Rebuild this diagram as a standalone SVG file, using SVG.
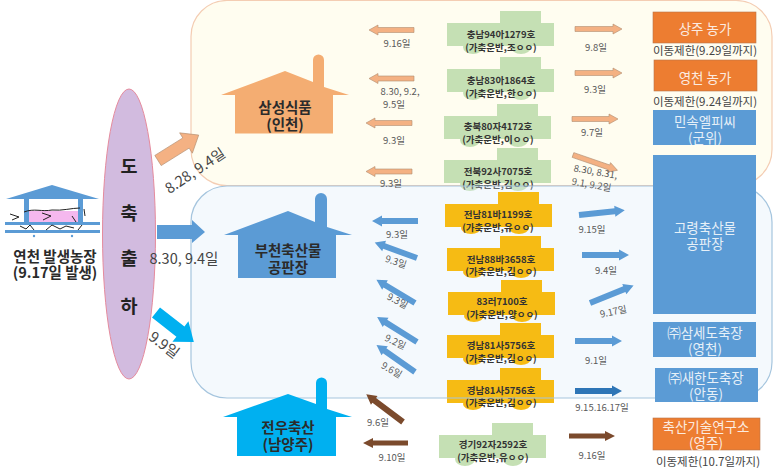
<svg xmlns="http://www.w3.org/2000/svg" width="773" height="470" viewBox="0 0 773 470">
<style>
text{font-family:"Noto Sans CJK KR","Noto Sans",sans-serif;text-anchor:middle}
.d{font-size:9.5px;fill:#595959}
.t{font-size:9.5px;font-weight:700;fill:#333}
.w{font-size:13.5px;fill:#fff;opacity:.85}
.h{font-size:14.5px;font-weight:700;fill:#2b2b2b}
.l{font-size:11.5px;fill:#444}
.b{font-size:14.5px;fill:#444}
.v{font-size:18.5px;font-weight:700;fill:#222}
.pe{fill:#f4b183;stroke:#b08d70;stroke-width:.6}
.bl{fill:#5b9bd5}
.br{fill:#7b4a2c}
.g{fill:#c5e0b4}
.y{fill:#f6bb14}
</style>
<defs>
<g id="tg"><path class="g" d="M0 12H53V0H94V12H107V35H0Z"/><ellipse class="g" cx="26" cy="36" rx="10" ry="7"/><ellipse class="g" cx="74" cy="36" rx="10" ry="7"/></g>
<g id="ty"><path class="y" d="M0 12H53V0H94V12H107V35H0Z"/><ellipse class="y" cx="26" cy="36" rx="10" ry="6"/><ellipse class="y" cx="74" cy="36" rx="10" ry="6"/></g>
</defs>
<rect id="panel-samsung" x="191" y="0.500" width="581" height="185" rx="36" fill="#fffdf0" stroke="#f4cdb3" stroke-width="1.200"/>
<g id="truck-1"><use href="#tg" x="447" y="11"/><text class="t" x="501" y="38">충남94아1279호</text><text class="t" x="501" y="51">(가축운반,조ㅇㅇ)</text></g>
<g id="truck-2"><use href="#tg" x="447" y="57"/><text class="t" x="501" y="84">충남83아1864호</text><text class="t" x="501" y="97">(가축운반,한ㅇㅇ)</text></g>
<g id="truck-3"><use href="#tg" x="444" y="104"/><text class="t" x="498" y="130">충북80자4172호</text><text class="t" x="498" y="143">(가축운반,이ㅇㅇ)</text></g>
<g id="truck-4"><use href="#tg" x="444" y="148"/><text class="t" x="498" y="175">전북92사7075호</text><text class="t" x="498" y="188">(가축운반,김ㅇㅇ)</text></g>
<rect id="panel-bucheon" x="191" y="186" width="581" height="212" rx="36" fill="#dceaf7" fill-opacity=".3" stroke="#a5c5de" stroke-width="1.200"/>
<g id="truck-5"><use href="#ty" x="445" y="192"/><text class="t" x="498" y="218">전남81바1199호</text><text class="t" x="498" y="231">(가축운반,유ㅇㅇ)</text></g>
<g id="truck-6"><use href="#ty" x="447" y="236"/><text class="t" x="501" y="263">전남88바3658호</text><text class="t" x="501" y="275">(가축운반,김ㅇㅇ)</text></g>
<g id="truck-7"><use href="#ty" x="448" y="280"/><text class="t" x="502" y="305">83러7100호</text><text class="t" x="502" y="318">(가축운반,양ㅇㅇ)</text></g>
<g id="truck-8"><use href="#ty" x="447" y="323"/><text class="t" x="501" y="349">경남81사5756호</text><text class="t" x="501" y="362">(가축운반,김ㅇㅇ)</text></g>
<g id="truck-9"><use href="#ty" x="447" y="368"/><text class="t" x="501" y="394">경남81사5756호</text><text class="t" x="501" y="406">(가축운반,김ㅇㅇ)</text><path d="M447 398H554" stroke="#a5c5de" stroke-width="1" fill="none"/></g>
<g id="truck-10"><use href="#tg" x="439" y="423"/><text class="t" x="493" y="448">경기92자2592호</text><text class="t" x="493" y="461">(가축운반,유ㅇㅇ)</text></g>

<g id="connectors">
<path class="pe" d="M414 27.500H378V25L369 30L378 35V32.500H414Z"/>
<path class="pe" d="M414 76H378V73.500L369 78.500L378 83.500V81H414Z"/>
<path class="pe" d="M412 120.500H375V118L366 123L375 128V125.500H412Z"/>
<path class="pe" d="M412 169H375V166.500L366 171.500L375 176.500V174H412Z"/>
<path class="pe" d="M575 26.500H613V24L622 29L613 34V31.500H575Z"/>
<path class="pe" d="M575 70.500H613V68L622 73L613 78V75.500H575Z"/>
<path class="pe" d="M572 116.500H609V114L618 119L609 124V121.500H572Z"/>
<path class="pe" transform="translate(573 155) rotate(19)" d="M0 -2.500H38V-5L47 0L38 5V2.500H0Z"/>
<g class="bl">
<path transform="translate(418 221) rotate(180)" d="M0 -3H36V-5.500L46 0L36 5.500V3H0Z"/>
<path transform="translate(417 258) rotate(-160)" d="M0 -3H35V-5.500L45 0L35 5.500V3H0Z"/>
<path transform="translate(415 303) rotate(-149)" d="M0 -3H35V-5.500L45 0L35 5.500V3H0Z"/>
<path transform="translate(417 342) rotate(-148)" d="M0 -3H37V-5.500L47 0L37 5.500V3H0Z"/>
<path transform="translate(415 372) rotate(-145)" d="M0 -3H37V-5.500L47 0L37 5.500V3H0Z"/>
<path transform="translate(579 215) rotate(-6)" d="M0 -3H36V-5.500L46 0L36 5.500V3H0Z"/>
<path d="M582 252H619V249.500L629 255L619 260.500V258H582Z"/>
<path transform="translate(590 303) rotate(-22)" d="M0 -3H37V-5.500L47 0L37 5.500V3H0Z"/>
<path d="M575 338H612V335.500L622 341L612 346.500V344H575Z"/>
</g>
<path fill="#2e75b6" d="M575 388H612V385.500L622 391L612 396.500V394H575Z"/>
<path class="br" transform="translate(403 422) rotate(-143)" d="M0 -3H36V-5.500L46 0L36 5.500V3H0Z"/>
<path class="br" d="M408 440.500H373V438L363 443L373 448V445.500H408Z"/>
<path class="br" d="M569 433.500H605V431L615 436L605 441V438.500H569Z"/>
<path class="pe" transform="translate(158 160.500) rotate(-32)" d="M0 -6H33V-12L48 0L33 12V6H0Z"/>
<path class="bl" d="M157 225H192V220L205 232L192 243V239H157Z"/>
<path fill="#00b0f0" transform="translate(156 312.500) rotate(38)" d="M0 -6.500H31V-13L48 0L31 13V6.500H0Z"/>
</g>

<g id="farm">
<path fill="#5b9bd5" d="M6 199L52 185L99 199Z"/>
<rect x="27" y="211" width="52" height="11" fill="#f5b8ee"/>
<rect x="24" y="199" width="5" height="23" fill="#5b9bd5"/><rect x="78" y="199" width="5" height="23" fill="#5b9bd5"/>
<path d="M24 212C34 208 42 212 52 210C62 211 72 208 80 208M10 214L19 217L12 220M42 213L51 216L43 220M84 209L85 216M72 216L76 222" fill="none" stroke="#222" stroke-width="1"/>
<rect x="5" y="222" width="95" height="3" fill="#5b9bd5"/><rect x="5" y="230" width="95" height="3" fill="#5b9bd5"/>
<path d="M20 226L26 229L30 225L34 230M46 230L52 225L60 229L66 226L74 228M78 230L82 225" fill="none" stroke="#222" stroke-width="1"/>
<circle cx="34" cy="236" r="1.200" fill="#5b9bd5"/><circle cx="72" cy="236" r="1.200" fill="#5b9bd5"/>
<text class="h" x="55" y="262">연천 발생농장</text><text class="h" x="55" y="278">(9.17일 발생)</text>
</g>
<g id="slaughter"><ellipse cx="129" cy="234" rx="26.500" ry="145" fill="#d2bbdf" stroke="#e58b9d"/>
<text class="v" x="129" y="173">도</text><text class="v" x="129" y="220">축</text><text class="v" x="129" y="265">출</text><text class="v" x="129" y="313">하</text></g>
<g id="house-samsung"><path fill="#f4ad72" d="M221 95L285 71L313 82V60A5.500 5.500 0 0 1 324 60V87L349 95H333V133.500H235V95Z"/><text class="h" x="285" y="113">삼성식품</text><text class="h" x="285" y="130">(인천)</text></g>
<g id="house-bucheon"><path fill="#5b9bd5" d="M224 235L288 211L315 222V199A6 6 0 0 1 327 199V227L352 235H336V278H238V235Z"/><text class="h" x="288" y="256">부천축산물</text><text class="h" x="288" y="273">공판장</text></g>
<g id="house-jeonwoo"><path fill="#00b0f0" d="M223 417L288 394L316 404V383A5.500 5.500 0 0 1 327 383V409L352 417H336V456H237V417Z"/><text class="h" x="288" y="433">전우축산</text><text class="h" x="288" y="450">(남양주)</text></g>

<g id="box-sangju"><rect x="653" y="12" width="103" height="31" fill="#ed7d31" stroke="#b9764a" stroke-width=".6"/><text class="w" x="705" y="34">상주 농가</text><text class="l" x="705" y="55">이동제한(9.29일까지)</text></g>
<g id="box-yeongcheon"><rect x="654" y="60" width="103" height="31" fill="#ed7d31" stroke="#b9764a" stroke-width=".6"/><text class="w" x="705" y="83">영천 농가</text><text class="l" x="705" y="106">이동제한(9.24일까지)</text></g>
<g id="box-minsok"><rect x="653" y="110" width="103" height="35" class="bl"/><text class="w" x="705" y="127">민속엘피씨</text><text class="w" x="705" y="143">(군위)</text></g>
<g id="box-goryeong"><rect x="653" y="155" width="103" height="159" class="bl"/><text class="w" x="705" y="233">고령축산물</text><text class="w" x="705" y="249">공판장</text></g>
<g id="box-samse"><rect x="653" y="322" width="103" height="35" class="bl"/><text class="w" x="705" y="338">㈜삼세도축장</text><text class="w" x="705" y="354">(영천)</text></g>
<g id="box-saehan"><rect x="655" y="368" width="103" height="34" class="bl"/><text class="w" x="706" y="383">㈜새한도축장</text><text class="w" x="706" y="399">(안동)</text></g>
<g id="box-research"><rect x="653" y="418" width="107" height="32" fill="#ed7d31" stroke="#b9764a" stroke-width=".6"/><text class="w" x="706" y="432">축산기술연구소</text><text class="w" x="706" y="448">(영주)</text><text class="l" x="708" y="466">이동제한(10.7일까지)</text></g>

<g id="labels">
<text class="d" x="397" y="47">9.16일</text>
<text class="d" x="400" y="95">8.30, 9.2,</text><text class="d" x="394" y="108">9.5일</text>
<text class="d" x="394" y="144">9.3일</text><text class="d" x="391" y="187">9.3일</text>
<text class="d" x="596" y="51">9.8일</text><text class="d" x="595" y="93">9.3일</text><text class="d" x="592" y="136">9.7일</text>
<text class="d" transform="translate(595 175) rotate(10)">8.30, 8.31,</text><text class="d" transform="translate(591 188) rotate(10)">9.1, 9.2일</text>
<text class="d" x="397" y="238">9.3일</text>
<text class="d" transform="translate(395 265) rotate(18)">9.3일</text>
<text class="d" transform="translate(396 304) rotate(28)">9.3일</text>
<text class="d" transform="translate(394 345) rotate(25)">9.2일</text>
<text class="d" transform="translate(390 373) rotate(30)">9.6일</text>
<text class="d" x="378" y="426">9.6일</text><text class="d" x="392" y="461">9.10일</text>
<text class="d" x="592" y="233">9.15일</text><text class="d" x="606" y="274">9.4일</text>
<text class="d" transform="translate(614 315) rotate(-12)">9.17일</text>
<text class="d" x="596" y="364">9.1일</text><text class="d" x="602" y="411">9.15.16.17일</text><text class="d" x="592" y="459">9.16일</text>
<text class="b" transform="translate(198 175) rotate(-34)">8.28, 9.4일</text>
<text class="b" x="184" y="264">8.30, 9.4일</text>
<text class="b" transform="translate(161 349) rotate(37)">9.9일</text>
</g>
</svg>
